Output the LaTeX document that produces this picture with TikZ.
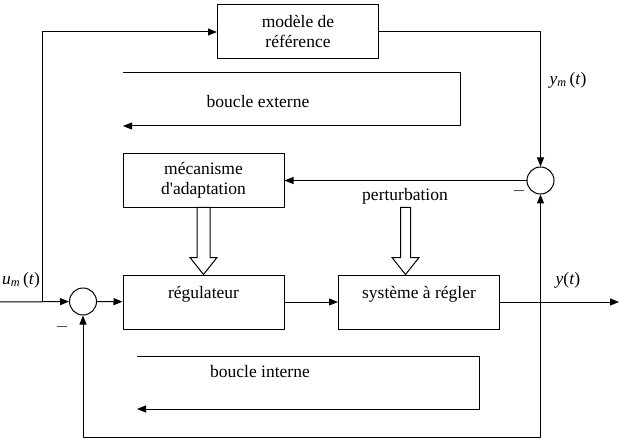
\documentclass[tikz,border=0pt]{standalone}
\usepackage{fontspec}
\setmainfont{Liberation Serif}
\usetikzlibrary{arrows.meta}
\begin{document}
\begin{tikzpicture}[
x=1pt,y=-1pt,
font=\fontsize{17.5}{20}\selectfont,
line width=1pt,
>={Triangle[length=9pt,width=7pt]},
bloc/.style={draw,minimum width=161pt,minimum height=54pt,align=center,inner sep=2pt},
blochaut/.style={bloc,text height=12pt,text depth=20pt},
somme/.style={draw,circle,minimum size=27pt,inner sep=0pt},
note/.style={inner sep=1pt}]
\useasboundingbox (0,0) rectangle (619,441);
% blocs
\node[bloc] (modele) at (298,32) {modèle de\\référence};
\node[bloc] (meca) at (203.5,180.5) {mécanisme\\d\textquotesingle adaptation};
\node[blochaut] (reg) at (203.5,302) {régulateur};
\node[blochaut] (sys) at (419,302) {système à régler};
\node[somme] (s1) at (83,301.5) {};
\node[somme] (s2) at (540.5,180.5) {};
% textes
\node[note] (um) at (21,280) {\textit{u}\textsubscript{\textit{m}}\,(\textit{t})};
\node[note] (ym) at (568,80) {\textit{y}\textsubscript{\textit{m}}\,(\textit{t})};
\node[note] (y) at (568,280) {\textit{y}(\textit{t})};
\node[note] (moins1) at (62,327) {$-$};
\node[note] (moins2) at (519,191) {$-$};
\node[note] (pert) at (405,196) {perturbation};
\node[note] (bext) at (258,102) {boucle externe};
\node[note] (bint) at (260,372) {boucle interne};
% points
\coordinate (entree) at (0,302);
\coordinate (e1) at (42,302);
\coordinate (sortie) at (619,302);
\coordinate (y1) at (540.5,302);
\coordinate (bas) at (540.5,437);
% liaisons
\draw[->] (entree) -- (s1);
\draw[->] (e1) |- (modele);
\draw[->] (modele) -| (s2);
\draw[->] (s1) -- (reg);
\draw[->] (reg) -- (sys);
\draw[->] (sys) -- (sortie);
\draw[->] (y1) -- (s2);
\draw[->] (y1) -- (bas) -| (s1);
\draw[->] (s2) -- (meca);
% fleches creuses
\draw (reg.north) -- ++(-13.5,-17) -- ++(7,0) -- ++(0,-50) -- ++(13,0) -- ++(0,50) -- ++(7,0) -- cycle;
\draw ([xshift=-13.5pt]sys.north) -- ++(-13.5,-17) -- ++(8.5,0) -- ++(0,-50) -- ++(10,0) -- ++(0,50) -- ++(8.5,0) -- cycle;
% boucles
\coordinate (ext1) at (123,73);
\coordinate (ext2) at (460,126);
\coordinate (int1) at (137,356);
\coordinate (int2) at (479,409);
\draw[->] (ext1) -| (ext2) -- (ext2 -| ext1);
\draw[->] (int1) -| (int2) -- (int2 -| int1);
\end{tikzpicture}
\end{document}
